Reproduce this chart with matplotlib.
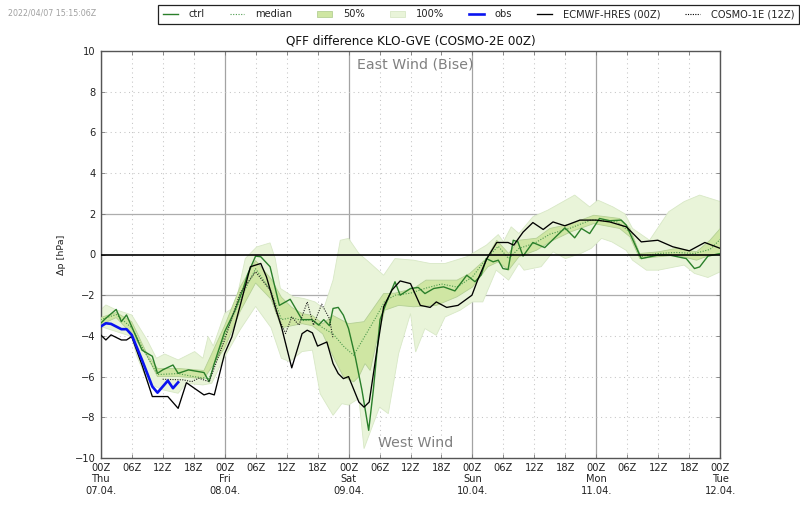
import numpy as np
import matplotlib
matplotlib.use('Agg')
import matplotlib.pyplot as plt
from matplotlib.lines import Line2D
from matplotlib.patches import Patch

plt.rcParams['font.family'] = 'DejaVu Sans'

ctrl_h = [0,1,3,4,5,6,8,10,11,12,14,15,17,20,21,22,24,26,27.5,28.5,30,31,32.8,34.6,36.7,39,40.9,42.2,43.2,44.3,45,46,47,48,49.3,50.6,51.9,52.8,54.1,55.4,57,58,60,61.5,62.8,64.5,66.4,68.6,70.9,72.5,73.7,74.7,76,77,77.9,78.9,79.9,80.8,81.8,83.7,86,89.9,91.8,93.1,94.7,96.6,98.6,100.8,101.8,103.1,104.7,107.9,110.2,113.4,115,116,117.6,120]
ctrl_v = [-3.38,-3.13,-2.7,-3.3,-2.97,-3.54,-4.7,-5.0,-5.84,-5.67,-5.43,-5.84,-5.67,-5.8,-6.25,-5.35,-3.8,-2.75,-1.75,-0.95,-0.08,-0.11,-0.6,-2.5,-2.2,-3.2,-3.2,-3.47,-3.2,-3.5,-2.65,-2.6,-2.98,-3.64,-5.03,-6.67,-8.64,-6.67,-3.2,-2.33,-1.34,-2.0,-1.67,-1.62,-1.92,-1.67,-1.59,-1.79,-1.02,-1.34,-1.0,-0.2,-0.36,-0.28,-0.69,-0.74,0.7,0.62,-0.08,0.59,0.34,1.31,0.82,1.28,1.03,1.77,1.66,1.69,1.44,0.7,-0.2,-0.03,-0.03,-0.2,-0.69,-0.61,-0.08,0.05]

hres_h = [0,1,2,4,5,6,8,10,13,15,16.6,20,21,22,24,25.4,29,31,32.1,33.8,35,37,39,40,41,42,43.8,45,46,47,48,50,51,52,53.5,54.8,56.4,58,60,61.9,63.8,65,67,69.2,71.9,73,74.8,76.7,78.9,80,81.8,83.7,85.7,87.6,89.9,92.8,96,98.6,101.8,104.7,107.9,110.8,114,117,120]
hres_v = [-3.95,-4.2,-3.95,-4.2,-4.2,-4.03,-5.43,-6.98,-6.98,-7.56,-6.3,-6.9,-6.82,-6.9,-4.87,-4.05,-0.6,-0.44,-1.1,-2.57,-3.55,-5.57,-3.89,-3.72,-3.85,-4.5,-4.3,-5.36,-5.85,-6.1,-6.0,-7.25,-7.5,-7.25,-4.7,-2.57,-1.75,-1.3,-1.43,-2.5,-2.6,-2.33,-2.6,-2.5,-2.0,-1.26,-0.2,0.59,0.59,0.46,1.1,1.57,1.23,1.6,1.41,1.69,1.69,1.6,1.36,0.62,0.7,0.38,0.18,0.59,0.3]

c1e_h = [12,16,17.6,19,21,24,27,30,32.8,34.1,35.8,37,38.4,40,41.2,42.8,44.3,45]
c1e_v = [-6.13,-6.16,-6.25,-6.08,-6.25,-4.2,-1.9,-0.85,-1.75,-2.9,-3.88,-3.07,-3.47,-2.33,-3.47,-2.44,-3.15,-4.13]

obs_h = [0,1,2,4,5,6,8,10,11,13,14,15]
obs_v = [-3.54,-3.38,-3.41,-3.67,-3.67,-3.95,-5.18,-6.49,-6.79,-6.2,-6.57,-6.28]

med_h = [0,3,6,9,11,15,18,21,24,27,30,33,35,37,39,41,43,45,47,49,50.5,53.5,55,57,60,63,66,69,72,75,77,79,81,84,87,91,95,100,102.5,104.5,108,111.5,115,118,120]
med_v = [-3.2,-2.95,-3.6,-5.0,-5.9,-5.85,-6.0,-6.1,-4.0,-2.2,-0.7,-1.8,-3.2,-3.1,-3.25,-3.2,-3.6,-3.9,-4.5,-4.95,-4.3,-3.0,-2.3,-2.0,-1.9,-1.65,-1.45,-1.6,-1.1,-0.1,0.4,-0.2,0.3,0.55,1.0,1.3,1.7,1.6,1.1,-0.1,0.05,0.1,0.05,0.25,0.75]

q50_up_h = [0,3,6,9,11,15,20,24,27,30,33,35,37,39,41,43,45,48,51,54.8,57,60.6,63,65.7,69,71.5,74.7,76.7,79,81,84.4,87,91,95.5,100.5,102.5,104.4,108,111.5,115.4,118,120]
q50_up_v = [-3.1,-2.85,-3.3,-4.9,-5.6,-5.6,-5.7,-3.5,-1.6,-0.3,-1.2,-2.1,-2.6,-2.9,-3.0,-3.4,-3.0,-3.4,-3.3,-1.92,-1.9,-1.67,-1.26,-1.26,-1.26,-0.93,-0.2,0.7,0.05,0.7,0.8,1.28,1.5,1.93,1.77,1.28,0.05,0.13,0.3,0.13,0.7,1.28]
q50_lo_h = [0,3,6,9,11,15,20,24,27,30,33,35,37,39,41,43,45,47,49,50,51.2,52.2,53.5,55,57.7,60.6,65,69,72,75,77,79,81,84.4,87,91,95.5,100.5,102.5,104.4,108,111.5,115.4,118,120]
q50_lo_v = [-3.45,-3.1,-3.9,-5.0,-6.0,-6.0,-6.1,-4.6,-2.8,-1.4,-2.2,-3.6,-3.5,-3.4,-3.5,-3.9,-5.0,-6.0,-6.26,-6.0,-5.36,-5.7,-4.2,-2.74,-2.5,-2.57,-2.5,-2.08,-1.6,-0.6,-0.36,-0.77,-0.11,0.21,0.62,1.11,1.52,1.28,0.87,-0.2,-0.11,-0.03,-0.28,-0.03,0.05]

q100_up_h = [0,1,3,6,9,10.8,12.4,15,18.2,19.8,20.8,21.8,24,26,28,30.2,32.8,33.8,34.8,37.3,39.3,41.5,43.2,45,46.4,48,50,51.9,54.8,57,60.6,63.8,66.7,70.9,74.7,77,78,79.5,81,83.7,86.6,91.8,94.7,96.3,99.2,101.5,103,106.3,110,113,116,120]
q100_up_v = [-2.72,-2.48,-2.72,-2.97,-4.2,-5.1,-4.89,-5.18,-4.77,-5.1,-4.03,-4.5,-2.9,-2.56,-0.2,0.37,0.57,-0.2,-1.67,-2.08,-2.16,-2.33,-2.66,-1.26,0.7,0.79,0.05,-0.36,-1.02,-0.2,-0.28,-0.44,-0.44,-0.11,0.46,0.98,0.62,1.36,1.03,1.85,2.18,2.92,2.34,2.67,2.34,2.0,1.28,0.7,2.1,2.6,2.92,2.6]
q100_lo_h = [0,6,7,9.2,12,15,16.6,19.8,21.5,23.7,27,30,33,35,36.6,39,41,42.5,45,46.7,48,50,51,54,55.7,57.7,60,61,62.8,65,66.7,69.6,72,74,76.6,79,81,82,85.3,87.6,90,93,95,97,99,101.8,103,105.7,108,113,115,117.6,120]
q100_lo_v = [-3.54,-4.03,-5.0,-6.33,-6.65,-6.82,-6.33,-6.41,-6.33,-5.18,-3.7,-2.55,-3.6,-5.1,-5.26,-4.77,-4.7,-6.84,-7.9,-7.33,-7.4,-7.07,-9.54,-7.5,-7.82,-4.87,-2.9,-4.79,-3.64,-3.97,-3.07,-2.74,-2.33,-2.33,-0.77,-1.26,-0.44,-0.77,-0.6,0.13,-0.2,0.05,0.3,0.79,0.62,0.2,-0.28,-0.77,-0.77,-0.52,-0.93,-1.13,-0.85]

hour_labels = ['00Z','06Z','12Z','18Z']
day_names = ['Thu','Fri','Sat','Sun','Mon','Tue']
day_dates = ['07.04.','08.04.','09.04.','10.04.','11.04.','12.04.']
y_ticks = [-10,-8,-6,-4,-2,0,2,4,6,8,10]

W, H = 800, 509
L, R, T, B = 100.7, 720.3, 51, 458
fig = plt.figure(figsize=(W/100, H/100), dpi=100)
ax = fig.add_axes([L/W, 1-B/H, (R-L)/W, (B-T)/H])

C50 = '#cfe6a3'; C100 = '#e9f4d9'; CE50 = '#b4d095'; CE100 = '#d8e8c6'
CTRL = '#2a7f2a'; MED = '#4c9a4c'

ax.fill(np.r_[q100_up_h, q100_lo_h[::-1]], np.r_[q100_up_v, q100_lo_v[::-1]],
        fc=C100, ec=CE100, lw=0.6, zorder=2)
ax.fill(np.r_[q50_up_h, q50_lo_h[::-1]], np.r_[q50_up_v, q50_lo_v[::-1]],
        fc=C50, ec=CE50, lw=0.6, zorder=3)
ax.plot(med_h, med_v, color=MED, ls=(0, (1, 1.4)), lw=0.8, zorder=4)
ax.plot(ctrl_h, ctrl_v, color=CTRL, lw=1.0, zorder=5)
ax.plot(hres_h, hres_v, color='black', lw=0.95, zorder=6)
ax.plot(c1e_h, c1e_v, color='#222222', ls=(0, (1, 1.2)), lw=0.8, zorder=6)
ax.plot(obs_h, obs_v, color='#0a14f0', lw=1.9, zorder=7)
ax.axhline(0, color='black', lw=1.2, zorder=5)

ax.set_xlim(0, 120)
ax.set_ylim(-10, 10)
ticks = list(range(0, 121, 6))
labels = []
for t in ticks:
    s = hour_labels[(t % 24)//6]
    if t % 24 == 0:
        i = t//24
        s += '\n' + day_names[i] + '\n' + day_dates[i]
    labels.append(s)
ax.set_xticks(ticks)
ax.set_xticklabels(labels, fontsize=7.1, linespacing=1.2, color='#222222')
ax.set_yticks(y_ticks)
ax.tick_params(axis='y', labelsize=7.1, labelcolor='#222222', direction='in', length=3,
               width=0.6, color='#777777', right=True, pad=3.5)
ax.tick_params(axis='x', direction='in', length=3, width=0.6, color='#777777', top=True, pad=3.4)
ax.set_ylabel('\u0394p [hPa]', fontsize=6.8, color='#222222')
ax.yaxis.set_label_coords(-0.056, 0.5)
ax.set_title('QFF difference KLO-GVE (COSMO-2E 00Z)', fontsize=8.65, pad=4.6, color='#111111')

for t in ticks:
    if t % 24 == 0:
        ax.axvline(t, color='#a3a3a3', lw=0.9, zorder=1)
    else:
        ax.axvline(t, color='#c4c4c4', lw=0.75, ls=(0, (1, 3.4)), zorder=1)
for y in y_ticks:
    if y in (2, -2):
        ax.axhline(y, color='#adadad', lw=0.9, zorder=1)
    elif y != 0:
        ax.axhline(y, color='#c4c4c4', lw=0.75, ls=(0, (1, 3.4)), zorder=1)

for s in ax.spines.values():
    s.set_linewidth(1.0)
    s.set_color('#555555')

ax.text(61, 9.35, 'East Wind (Bise)', ha='center', va='center',
        fontsize=10.2, color='#808080', zorder=8)
ax.text(61, -9.25, 'West Wind', ha='center', va='center',
        fontsize=10.2, color='#808080', zorder=8)

fig.text(8.5/W, 1-13/H, '2022/04/07 15:15:06Z', fontsize=5.7, color='#a0a0a0', va='center')

handles = [
    Line2D([], [], color=CTRL, lw=1.0),
    Line2D([], [], color=MED, ls=(0, (1, 1.4)), lw=0.8),
    Patch(fc=C50, ec=CE50, lw=0.6),
    Patch(fc=C100, ec=CE100, lw=0.6),
    Line2D([], [], color='#0a14f0', lw=1.9),
    Line2D([], [], color='black', lw=0.95),
    Line2D([], [], color='black', ls=(0, (1, 1.2)), lw=0.8),
]
names = ['ctrl', 'median', '50%', '100%', 'obs', 'ECMWF-HRES (00Z)', 'COSMO-1E (12Z)']
leg = fig.legend(handles, names, loc='upper right', bbox_to_anchor=(799/W, 1-5/H), ncol=7,
                 fontsize=7.1, frameon=True, fancybox=False, edgecolor='#222222', framealpha=1,
                 borderaxespad=0, borderpad=0.45, handlelength=1.5, handletextpad=1.1,
                 columnspacing=2.55, labelcolor='#222222')
leg.get_frame().set_linewidth(0.9)

fig.savefig('out.png', dpi=100)
